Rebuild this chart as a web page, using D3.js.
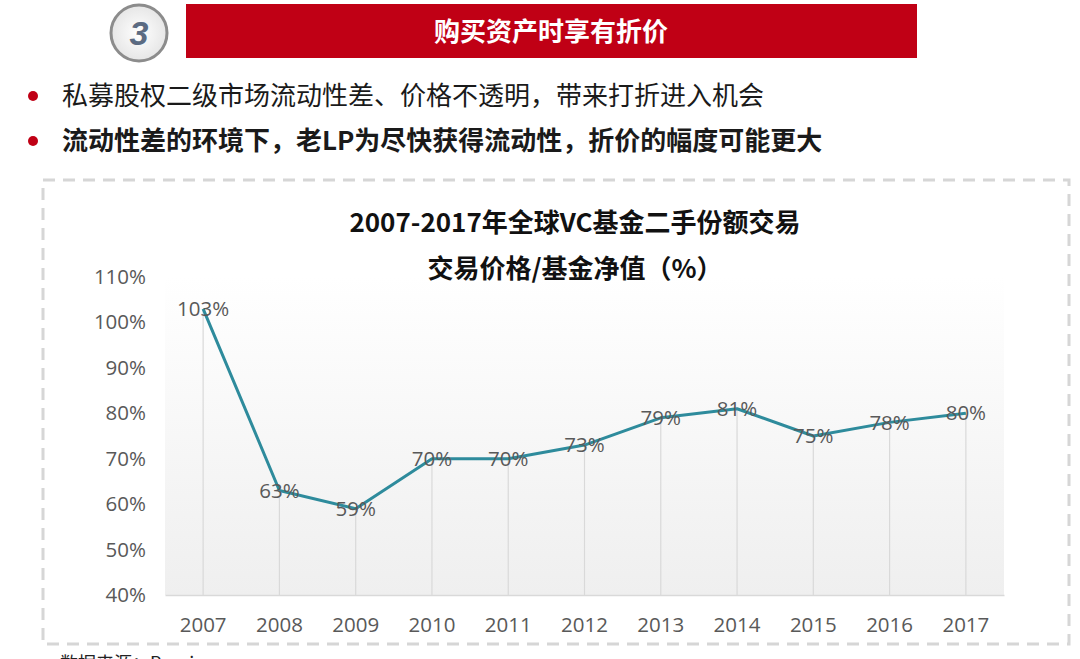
<!DOCTYPE html>
<html>
<head>
<meta charset="utf-8">
<script src="https://cdn.jsdelivr.net/npm/d3@7"></script>
<style>
  body { margin: 0; background: #fff; }
  svg { display: block; font-family: "Noto Sans CJK SC", "Noto Sans", sans-serif; }
</style>
</head>
<body>
<div id="graf"></div>
<script>
// Datos
const anios = ["2007", "2008", "2009", "2010", "2011", "2012", "2013", "2014", "2015", "2016", "2017"]
const precios = [103, 63, 59, 70, 70, 73, 79, 81, 75, 78, 80]
const ticksY = [40, 50, 60, 70, 80, 90, 100, 110]
const titulo = "购买资产时享有折价"
const puntos = [
  { texto: "私募股权二级市场流动性差、价格不透明，带来打折进入机会", bold: false },
  { texto: "流动性差的环境下，老LP为尽快获得流动性，折价的幅度可能更大", bold: true }
]
const tituloGraf = ["2007-2017年全球VC基金二手份额交易", "交易价格/基金净值（%）"]
const fuente = "数据来源：Preqin"

const draw = () => {
  const ancho = 1080
  const alto = 659

  const svg = d3.select("#graf")
    .append("svg")
    .attr("width", ancho)
    .attr("height", alto)

  const defs = svg.append("defs")
  const grad = defs.append("linearGradient")
    .attr("id", "fondo")
    .attr("x1", 0).attr("y1", 0).attr("x2", 0).attr("y2", 1)
  grad.append("stop").attr("offset", "0%").attr("stop-color", "#ffffff")
  grad.append("stop").attr("offset", "100%").attr("stop-color", "#efefef")

  const gradC = defs.append("radialGradient").attr("id", "circ")
  gradC.append("stop").attr("offset", "0%").attr("stop-color", "#ffffff")
  gradC.append("stop").attr("offset", "100%").attr("stop-color", "#e6e6e6")

  // Encabezado
  svg.append("circle")
    .attr("cx", 139).attr("cy", 33).attr("r", 28)
    .attr("fill", "url(#circ)")
    .attr("stroke", "#8c8c8c")
    .attr("stroke-width", 3)
  svg.append("text")
    .attr("x", 139).attr("y", 45)
    .attr("text-anchor", "middle")
    .attr("font-family", "Liberation Sans, Arial, sans-serif")
    .attr("font-style", "italic")
    .attr("font-weight", "bold")
    .attr("font-size", 34)
    .attr("fill", "#5b6b82")
    .text("3")

  svg.append("rect")
    .attr("x", 186).attr("y", 4)
    .attr("width", 731).attr("height", 54)
    .attr("fill", "#c00015")
  svg.append("text")
    .attr("x", 551).attr("y", 41)
    .attr("text-anchor", "middle")
    .attr("font-weight", "bold")
    .attr("font-size", 26)
    .attr("fill", "#fff")
    .text(titulo)

  // Viñetas
  const vin = svg.append("g")
  vin.selectAll("circle")
    .data(puntos)
    .join("circle")
    .attr("cx", 33)
    .attr("cy", (d, i) => 96 + i * 45)
    .attr("r", 5)
    .attr("fill", "#c00015")
  vin.selectAll("text")
    .data(puntos)
    .join("text")
    .attr("x", 62)
    .attr("y", (d, i) => 105 + i * 45)
    .attr("font-size", 26)
    .attr("font-weight", (d) => (d.bold ? "bold" : "normal"))
    .attr("fill", "#1a1a1a")
    .text((d) => d.texto)

  // Marco punteado
  svg.append("rect")
    .attr("x", 43).attr("y", 180)
    .attr("width", 1026).attr("height", 464)
    .attr("fill", "none")
    .attr("stroke", "#d6d6d6")
    .attr("stroke-width", 3)
    .attr("stroke-dasharray", "12 8")

  // Escaladores
  const x = d3.scaleBand().domain(anios).range([165, 1004])
  const y = d3.scaleLinear().domain([40, 110]).range([595, 277])
  const cx = (d) => x(d) + x.bandwidth() / 2

  svg.append("rect")
    .attr("x", 165).attr("y", y(110))
    .attr("width", 839).attr("height", y(40) - y(110))
    .attr("fill", "url(#fondo)")

  // Titulo del grafico
  svg.selectAll("text.tit")
    .data(tituloGraf)
    .join("text")
    .classed("tit", true)
    .attr("x", 575)
    .attr("y", (d, i) => 232 + i * 46)
    .attr("text-anchor", "middle")
    .attr("font-weight", "bold")
    .attr("font-size", 26)
    .attr("fill", "#111")
    .text((d) => d)

  // Ejes
  const ejeY = svg.append("g")
    .attr("transform", "translate(146, 0)")
    .call(d3.axisLeft(y).tickValues(ticksY).tickFormat((d) => d + "%").tickSize(0).tickPadding(0))
  ejeY.select(".domain").remove()
  ejeY.selectAll("text")
    .attr("font-family", "Open Sans, Noto Sans, sans-serif")
    .attr("font-size", 20.5)
    .attr("fill", "#595959")

  const ejeX = svg.append("g")
    .attr("transform", `translate(0, ${y(40)})`)
    .call(d3.axisBottom(x).tickSize(0).tickPadding(22))
  ejeX.select(".domain").attr("stroke", "#d9d9d9").attr("stroke-width", 1.5)
  ejeX.selectAll("text")
    .attr("font-family", "Open Sans, Noto Sans, sans-serif")
    .attr("font-size", 20.5)
    .attr("fill", "#595959")

  // Lineas de caida
  svg.append("g")
    .selectAll("line")
    .data(precios)
    .join("line")
    .attr("x1", (d, i) => cx(anios[i]))
    .attr("x2", (d, i) => cx(anios[i]))
    .attr("y1", (d) => y(d))
    .attr("y2", y(40))
    .attr("stroke", "#d9d9d9")
    .attr("stroke-width", 1.2)

  // Linea
  const linea = d3.line()
    .x((d, i) => cx(anios[i]))
    .y((d) => y(d))
  svg.append("path")
    .datum(precios)
    .attr("d", linea)
    .attr("fill", "none")
    .attr("stroke", "#2e8b9c")
    .attr("stroke-width", 3)
    .attr("stroke-linejoin", "round")

  // Etiquetas
  svg.append("g")
    .selectAll("text")
    .data(precios)
    .join("text")
    .attr("x", (d, i) => cx(anios[i]))
    .attr("y", (d) => y(d))
    .attr("dy", "0.35em")
    .attr("text-anchor", "middle")
    .attr("font-family", "Open Sans, Noto Sans, sans-serif")
    .attr("font-size", 20.5)
    .attr("fill", "#595959")
    .text((d) => d + "%")

  // Fuente
  svg.append("text")
    .attr("x", 60).attr("y", 670)
    .attr("font-size", 18)
    .attr("fill", "#222")
    .text(fuente)
}

draw()
</script>
</body>
</html>
